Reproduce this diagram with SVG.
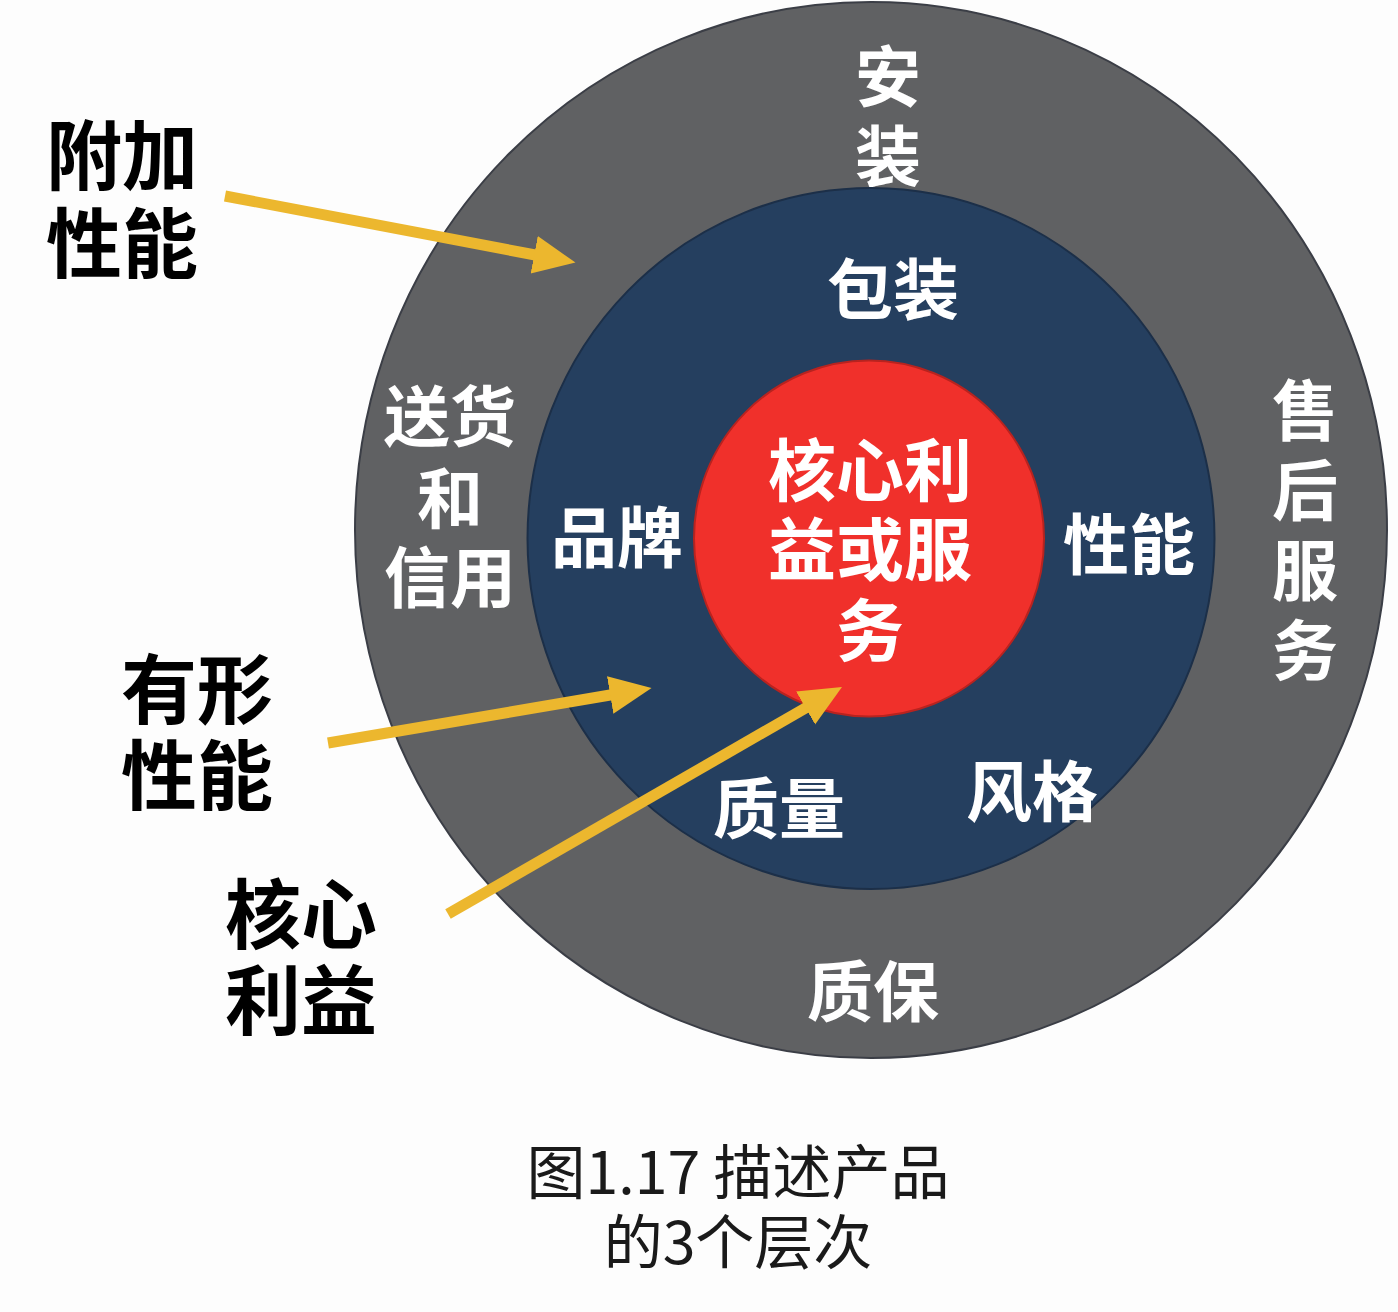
<svg xmlns="http://www.w3.org/2000/svg" width="1398" height="1312" viewBox="0 0 1398 1312">
<defs>
<style>
.w{fill:#ffffff;font-family:"Noto Sans CJK SC","Noto Sans",sans-serif;font-weight:700;font-size:66px;text-anchor:middle}
.c{font-size:68px}
.b{fill:#000000;font-family:"Noto Sans CJK SC","Noto Sans",sans-serif;font-weight:700;font-size:76px;text-anchor:middle}
.cap{fill:#1a1a1a;font-family:"Noto Sans CJK SC","Noto Sans",sans-serif;font-weight:400;font-size:59px;text-anchor:middle}
.arr{stroke:#ecb72e;stroke-width:11;fill:none;marker-end:url(#ah)}
</style>
<marker id="ah" markerUnits="userSpaceOnUse" markerWidth="46" markerHeight="40" refX="12" refY="19" orient="auto" viewBox="0 0 46 40">
<path d="M0,0 L42,19 L0,38 z" fill="#ecb72e"/>
</marker>
</defs>
<rect width="1398" height="1312" fill="#fdfdfd"/>
<g id="outer-ring">
<ellipse cx="871" cy="530" rx="516" ry="528" fill="#606163" stroke="#3b3e46" stroke-width="2"/>
<text class="w" x="888" y="101">安</text>
<text class="w" x="888" y="181">装</text>
<text class="w" x="450" y="441">送货</text>
<text class="w" x="450" y="523">和</text>
<text class="w" x="450" y="602">信用</text>
<text class="w" x="1305" y="435">售</text>
<text class="w" x="1305" y="515">后</text>
<text class="w" x="1305" y="595">服</text>
<text class="w" x="1305" y="675">务</text>
<text class="w" x="873" y="1016">质保</text>
</g>
<g id="middle-ring">
<ellipse cx="871" cy="538.5" rx="343.5" ry="350.5" fill="#253f5f" stroke="#1c2f48" stroke-width="2"/>
<text class="w" x="893" y="314">包装</text>
<text class="w" x="617" y="562">品牌</text>
<text class="w" x="1129" y="569">性能</text>
<text class="w" x="779" y="833">质量</text>
<text class="w" x="1032" y="816">风格</text>
</g>
<g id="core">
<ellipse cx="869" cy="538.5" rx="175" ry="178" fill="#f0302b" stroke="#b8231f" stroke-width="2"/>
<text class="w c" x="870" y="496">核心利</text>
<text class="w c" x="870" y="575">益或服</text>
<text class="w c" x="870" y="656">务</text>
</g>
<g id="label-additional">
<text class="b" x="122" y="184">附加</text>
<text class="b" x="122" y="272">性能</text>
</g>
<g id="label-tangible">
<text class="b" x="197" y="718">有形</text>
<text class="b" x="197" y="804">性能</text>
</g>
<g id="label-core">
<text class="b" x="301" y="943">核心</text>
<text class="b" x="301" y="1029">利益</text>
</g>
<g id="connectors">
<line class="arr" x1="225" y1="196" x2="546" y2="257"/>
<line class="arr" x1="328" y1="743" x2="622" y2="693"/>
<line class="arr" x1="448" y1="914" x2="816" y2="702"/>
</g>
<g id="caption">
<text class="cap" x="738" y="1194">图1.17 描述产品</text>
<text class="cap" x="738" y="1264">的3个层次</text>
</g>
</svg>
